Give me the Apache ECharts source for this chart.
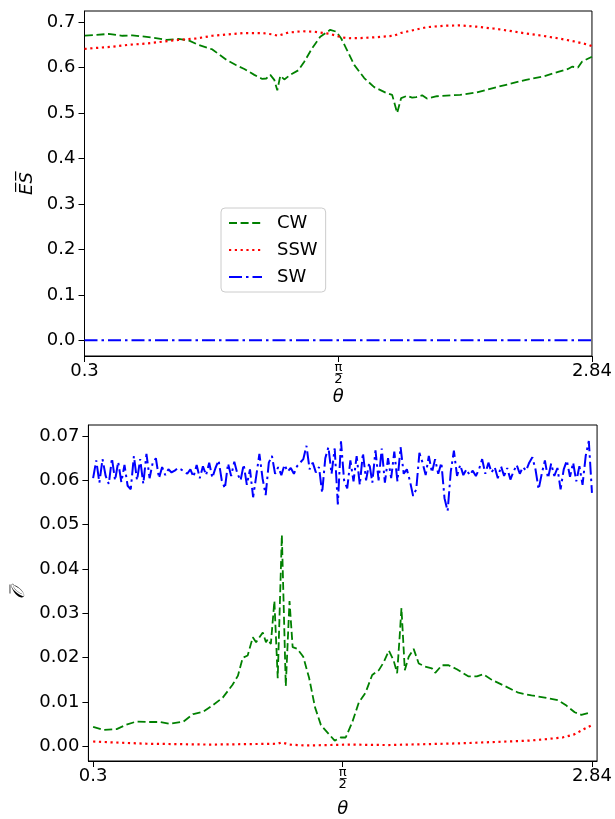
<!DOCTYPE html>
<html>
<head>
<meta charset="utf-8">
<script src="https://cdn.jsdelivr.net/npm/echarts@6/dist/echarts.min.js"></script>
<style>
html,body{margin:0;padding:0;background:#fff;}
#chart{width:615px;height:819px;}
</style>
</head>
<body>
<div id="chart"></div>
<script>
// ---------- DATA ----------
const seriesNames = ['CW', 'SSW', 'SW'];
const xTickValues = [0.3, Math.PI / 2, 2.84];

// Top panel: ES
const esCwTheta = [0.302,0.36,0.42,0.49,0.54,0.64,0.71,0.77,0.82,0.87,0.94,1.01,1.06,1.10,1.15,1.19,1.21,1.23,1.25,1.265,1.28,1.30,1.33,1.37,1.40,1.44,1.48,1.53,1.56,1.585,1.609,1.65,1.70,1.75,1.807,1.84,1.865,1.885,1.915,1.94,1.96,1.99,2.014,2.064,2.18,2.26,2.345,2.427,2.51,2.593,2.675,2.72,2.74,2.77,2.79,2.84];
const esCw      = [0.6705,0.672,0.674,0.670,0.671,0.666,0.661,0.663,0.660,0.650,0.640,0.617,0.605,0.597,0.584,0.575,0.576,0.584,0.573,0.550,0.582,0.574,0.584,0.594,0.613,0.643,0.668,0.683,0.679,0.664,0.643,0.606,0.577,0.557,0.545,0.540,0.500,0.533,0.538,0.534,0.535,0.539,0.532,0.537,0.540,0.545,0.555,0.564,0.573,0.580,0.591,0.597,0.602,0.600,0.613,0.624];
const esSswTheta = [0.30,0.38,0.44,0.52,0.61,0.69,0.77,0.86,0.94,1.02,1.10,1.19,1.24,1.27,1.32,1.39,1.45,1.53,1.584,1.617,1.683,1.766,1.849,1.882,1.931,2.014,2.097,2.18,2.262,2.345,2.427,2.51,2.593,2.675,2.758,2.824,2.84];
const esSsw      = [0.641,0.644,0.646,0.650,0.653,0.657,0.661,0.664,0.670,0.673,0.676,0.676,0.673,0.670,0.677,0.680,0.679,0.674,0.667,0.6645,0.665,0.667,0.670,0.676,0.681,0.689,0.692,0.693,0.690,0.686,0.681,0.675,0.670,0.664,0.657,0.650,0.647];
const esSwTheta = [0.3, 2.84];
const esSw      = [0.0, 0.0];
const esTicks = [0, 0.1, 0.2, 0.3, 0.4, 0.5, 0.6, 0.7];

// Bottom panel: O
const oCwTheta = [0.30,0.352,0.42,0.47,0.52,0.57,0.64,0.69,0.76,0.81,0.86,0.91,0.96,1.01,1.037,1.062,1.087,1.113,1.13,1.147,1.164,1.18,1.19,1.205,1.223,1.24,1.261,1.281,1.30,1.316,1.34,1.37,1.40,1.43,1.46,1.50,1.53,1.56,1.586,1.62,1.653,1.687,1.721,1.755,1.78,1.806,1.83,1.848,1.86,1.87,1.887,1.907,1.932,1.958,1.99,2.025,2.042,2.076,2.11,2.152,2.21,2.254,2.287,2.33,2.397,2.465,2.532,2.60,2.668,2.71,2.752,2.786,2.82];
const oCw      = [0.0044,0.0037,0.0039,0.0049,0.0056,0.0055,0.0055,0.0051,0.0056,0.0073,0.0078,0.0093,0.0110,0.0139,0.0159,0.0200,0.0205,0.0246,0.0235,0.0246,0.0257,0.0235,0.0242,0.0231,0.0328,0.0154,0.0477,0.0136,0.0328,0.0224,0.0220,0.0202,0.0154,0.0088,0.0048,0.0028,0.0013,0.0020,0.0020,0.0055,0.0099,0.0121,0.0161,0.0172,0.0190,0.0216,0.0194,0.0165,0.0242,0.0312,0.0172,0.0202,0.0220,0.0187,0.0180,0.0176,0.0166,0.0183,0.0183,0.0174,0.0158,0.0158,0.0163,0.0150,0.0136,0.0121,0.0115,0.0110,0.0104,0.0092,0.0077,0.0071,0.0075];
const oSswTheta = [0.30,0.40,0.57,0.90,1.24,1.26,1.30,1.38,1.50,1.60,1.80,2.00,2.18,2.35,2.52,2.60,2.69,2.75,2.80,2.84];
const oSsw      = [0.0011,0.0009,0.0006,0.0004,0.0006,0.0009,0.0004,0.0002,0.0003,0.0004,0.0003,0.0005,0.0007,0.0010,0.0013,0.0016,0.0020,0.0027,0.0039,0.0048];
const oSwStart = 0.3, oSwEnd = 2.84;
const oSw = [
 0.0605,0.0645,0.0595,0.0648,0.0610,0.0592,0.0650,0.0600,0.0642,0.0596,
 0.0635,0.0588,0.0580,0.0655,0.0600,0.0648,0.0592,0.0660,0.0605,0.0640,
 0.0650,0.0605,0.0630,0.0612,0.0625,0.0618,0.0622,0.0628,0.0625,0.0620,
 0.0615,0.0625,0.0608,0.0635,0.0605,0.0632,0.0612,0.0640,0.0606,0.0628,
 0.0645,0.0600,0.0582,0.0638,0.0610,0.0642,0.0615,0.0600,0.0636,0.0590,
 0.0625,0.0562,0.0610,0.0660,0.0605,0.0567,0.0640,0.0655,0.0615,0.0630,
 0.0612,0.0635,0.0620,0.0628,0.0615,0.0632,0.0640,0.0648,0.0678,0.0625,
 0.0640,0.0618,0.0630,0.0572,0.0650,0.0675,0.0615,0.0672,0.0546,0.0688,
 0.0600,0.0582,0.0645,0.0598,0.0655,0.0590,0.0662,0.0600,0.0640,0.0595,
 0.0668,0.0600,0.0672,0.0595,0.0650,0.0605,0.0665,0.0598,0.0675,0.0615,
 0.0625,0.0598,0.0565,0.0580,0.0662,0.0640,0.0612,0.0655,0.0618,0.0648,
 0.0615,0.0640,0.0560,0.0531,0.0620,0.0667,0.0610,0.0635,0.0612,0.0625,
 0.0612,0.0622,0.0610,0.0625,0.0648,0.0615,0.0640,0.0618,0.0630,0.0605,
 0.0632,0.0610,0.0628,0.0602,0.0620,0.0635,0.0615,0.0630,0.0622,0.0640,
 0.0652,0.0625,0.0580,0.0615,0.0645,0.0605,0.0638,0.0610,0.0628,0.0580,
 0.0625,0.0645,0.0608,0.0640,0.0598,0.0632,0.0590,0.0655,0.0689,0.0572
];
const oTicks = [0, 0.01, 0.02, 0.03, 0.04, 0.05, 0.06, 0.07];

// ---------- BUILD ----------
const pairs = (xs, ys) => xs.map((x, i) => [x, ys[i]]);
const oSwTheta = oSw.map((_, i) => oSwStart + i * (oSwEnd - oSwStart) / (oSw.length - 1));

const FONT = 'DejaVu Sans';
const GREEN = '#008000', RED = '#ff0000', BLUE = '#0000ff';
const styleCW  = { color: GREEN, width: 1.8, type: [8, 3.6] };
const styleSSW = { color: RED,   width: 2.2, type: [2.2, 3.6] };
const styleSW  = { color: BLUE,  width: 2.0, type: [13, 4, 2.5, 4] };

function xLabelFmt(v) {
  if (Math.abs(v - Math.PI / 2) < 1e-6) return '{f|π̲}\n{f|2}';
  if (Math.abs(v - 0.3) < 1e-6) return '0.3';
  return '2.84';
}

function makeX(gridIndex, min, max, gap) {
  return {
    type: 'value', gridIndex, min, max,
    name: 'θ', nameLocation: 'middle', nameGap: gap,
    nameTextStyle: { fontFamily: FONT, fontSize: 18, fontStyle: 'italic', color: '#000' },
    axisLine: { show: true, onZero: false, lineStyle: { color: '#000', width: 1 } },
    axisTick: { show: true, length: 6, lineStyle: { color: '#000', width: 1 }, customValues: xTickValues },
    axisLabel: {
      show: true, margin: 6, fontFamily: FONT, fontSize: 18, color: '#000',
      customValues: xTickValues, formatter: xLabelFmt,
      rich: { f: { fontFamily: FONT, fontSize: 13, lineHeight: 12, color: '#000', align: 'center' } }
    },
    splitLine: { show: false }
  };
}
function makeY(gridIndex, min, max, ticks, digits, name, gap) {
  return {
    type: 'value', gridIndex, min, max,
    name, nameLocation: 'middle', nameGap: gap, nameRotate: 90,
    nameTextStyle: { fontFamily: FONT, fontSize: 18, fontStyle: 'italic', color: '#000' },
    axisLine: { show: true, onZero: false, lineStyle: { color: '#000', width: 1 } },
    axisTick: { show: true, length: 6, lineStyle: { color: '#000', width: 1 }, customValues: ticks },
    axisLabel: {
      show: true, margin: 9, fontFamily: FONT, fontSize: 18, color: '#000',
      customValues: ticks, formatter: v => v.toFixed(digits)
    },
    splitLine: { show: false }
  };
}
function line(name, xi, data, ls, z) {
  return { name, type: 'line', xAxisIndex: xi, yAxisIndex: xi, data, symbol: 'none', showSymbol: false,
           lineStyle: ls, itemStyle: { color: ls.color }, z: z || 2, animation: false, silent: true };
}

const chart = echarts.init(document.getElementById('chart'), null, { renderer: 'canvas' });
chart.setOption({
  animation: false,
  backgroundColor: '#fff',
  grid: [
    { left: 84.5, top: 11, width: 512, height: 345, show: true, borderColor: '#000', borderWidth: 1, backgroundColor: 'transparent' },
    { left: 88.4, top: 425, width: 511, height: 344, show: true, borderColor: '#000', borderWidth: 1, backgroundColor: 'transparent' }
  ],
  xAxis: [ makeX(0, 0.3, 2.84, 32), makeX(1, 0.276, 2.866, 39) ],
  yAxis: [
    makeY(0, -0.0345, 0.7245, esTicks, 1, 'E\u0305S\u0305', 32),
    makeY(1, -0.0033, 0.0725, oTicks, 2, '\u{1D4AA}\u0305', 59)
  ],
  legend: {
    data: seriesNames, orient: 'vertical', left: 221, top: 208,
    padding: [6, 8, 6, 7], itemWidth: 33, itemHeight: 14, itemGap: 9,
    backgroundColor: 'rgba(255,255,255,0.8)', borderColor: '#cccccc', borderWidth: 1, borderRadius: 4,
    itemStyle: { opacity: 0 },
    textStyle: { fontFamily: FONT, fontSize: 18, color: '#000', padding: [0, 0, 0, 10] },
    selectedMode: false
  },
  series: [
    line('CW', 0, pairs(esCwTheta, esCw), styleCW),
    line('SSW', 0, pairs(esSswTheta, esSsw), styleSSW),
    line('SW', 0, pairs(esSwTheta, esSw), styleSW),
    line('CW', 1, pairs(oCwTheta, oCw), styleCW),
    line('SSW', 1, pairs(oSswTheta, oSsw), styleSSW),
    line('SW', 1, pairs(oSwTheta, oSw), styleSW)
  ]
});
</script>
</body>
</html>
